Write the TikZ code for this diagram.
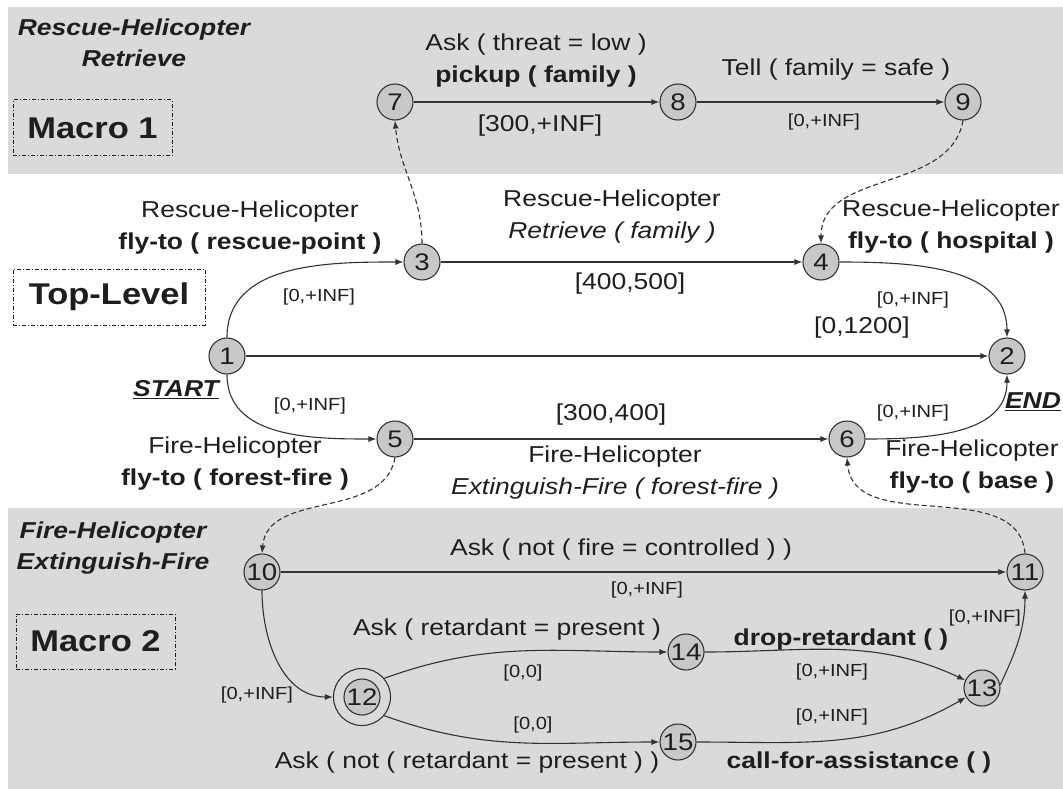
\documentclass[tikz,border=0pt]{standalone}
\usepackage{fontspec}
\setmainfont{Liberation Sans}[FakeStretch=1.15]
\usetikzlibrary{arrows.meta}
\definecolor{band}{HTML}{DADADA}
\definecolor{statefill}{HTML}{C8C8C8}
\definecolor{ink}{HTML}{333333}
\definecolor{textc}{HTML}{1E1E1E}

\begin{document}
\begin{tikzpicture}[x=1pt,y=-1pt,
  state/.style={circle,draw=ink,fill=statefill,line width=1.1pt,minimum size=36pt,
    inner sep=0pt,text=textc,font=\fontsize{24}{24}\selectfont},
  ring/.style={circle,draw=ink,line width=1.1pt,minimum size=57pt,inner sep=0pt},
  lbl/.style={text=textc,font=\fontsize{23}{32}\selectfont,align=center,inner sep=0pt},
  sml/.style={text=textc,font=\fontsize{17.5}{20}\selectfont,inner sep=0pt},
  ttl/.style={text=textc,font=\bfseries\itshape\fontsize{23}{31}\selectfont,align=center,inner sep=0pt},
  level/.style={draw=textc,line width=1pt,dash pattern=on 4pt off 2pt on 1pt off 2pt,
    text=textc,font=\bfseries\fontsize{30}{34}\selectfont,inner sep=0pt},
  edge/.style={draw=ink,line width=1.1pt,-{Latex[length=8pt,width=6pt]}},
  dedge/.style={edge,dash pattern=on 5pt off 3pt},
]
\useasboundingbox (0,0) rectangle (1063,789);
\fill[white] (0,0) rectangle (1063,789);

% shaded macro bands
\fill[band] (8,7) rectangle (1063,174);
\fill[band] (8,508) rectangle (1063,789);

% level boxes
\node[level,minimum width=159pt,minimum height=56pt] (m1) at (92.5,128) {Macro 1};
\node[level,minimum width=192pt,minimum height=56pt] (top) at (109,297) {Top-Level};
\node[level,minimum width=159pt,minimum height=55pt] (m2) at (95.5,641.5) {Macro 2};

% band titles
\node[ttl] (t1) at (134,43) {Rescue-Helicopter\\Retrieve};
\node[ttl] (t2) at (113,548) {Fire-Helicopter\\Extinguish-Fire};

% states
\node[state] (1) at (227,356) {1};
\node[state] (2) at (1007,356) {2};
\node[state] (3) at (422,262) {3};
\node[state] (4) at (821,262) {4};
\node[state] (5) at (395,439) {5};
\node[state] (6) at (847,439) {6};
\node[state] (7) at (395,102) {7};
\node[state] (8) at (678,102) {8};
\node[state] (9) at (963,102) {9};
\node[state] (10) at (262,572) {10};
\node[state] (11) at (1025,572) {11};
\node[state] (12) at (362,697) {12};
\node[ring] (12o) at (362,697) {};
\node[state] (13) at (982,688) {13};
\node[state] (14) at (686,652) {14};
\node[state] (15) at (678,742) {15};

% macro 1
\draw[edge] (7) -- (8);
\draw[edge] (8) -- (9);
\node[lbl] (a78) at (536,61) {Ask ( threat = low )\\\textbf{pickup ( family )}};
\node[lbl] (b78) at (540,126) {[300,+INF]};
\node[lbl] (a89) at (836,70) {Tell ( family = safe )};
\node[sml] (b89) at (824,122) {[0,+INF]};

% top level
\draw[edge] (1.north) to[out=90,in=180] (3.west);
\draw[edge] (3) -- (4);
\draw[edge] (4.east) to[out=0,in=90] (2.north);
\draw[edge] (1) -- (2);
\draw[edge] (1.south) to[out=-90,in=180] (5.west);
\draw[edge] (5) -- (6);
\draw[edge] (6.east) to[out=0,in=-90] (2.south);

\node[lbl] (a13) at (250,228) {Rescue-Helicopter\\\textbf{fly-to ( rescue-point )}};
\node[sml] (b13) at (319,297) {[0,+INF]};
\node[lbl] (a34) at (612,217) {Rescue-Helicopter\\\textit{Retrieve ( family )}};
\node[lbl] (b34) at (630,284) {[400,500]};
\node[lbl] (a42) at (951,227) {Rescue-Helicopter\\\textbf{fly-to ( hospital )}};
\node[sml] (b42) at (913,300) {[0,+INF]};
\node[lbl] (b12) at (862,328) {[0,1200]};
\node[lbl,font=\bfseries\itshape\fontsize{23}{28}\selectfont] (st) at (176,390) {\underline{START}};
\node[lbl,font=\bfseries\itshape\fontsize{23}{28}\selectfont] (en) at (1033,402) {\underline{END}};
\node[sml] (b15) at (310,406) {[0,+INF]};
\node[lbl] (a15) at (235,464) {Fire-Helicopter\\\textbf{fly-to ( forest-fire )}};
\node[lbl] (b56) at (611,415) {[300,400]};
\node[lbl] (a56) at (615,473) {Fire-Helicopter\\\textit{Extinguish-Fire ( forest-fire )}};
\node[sml] (b62) at (913,413) {[0,+INF]};
\node[lbl] (a62) at (972,467) {Fire-Helicopter\\\textbf{fly-to ( base )}};

% expansions into the macros
\draw[dedge] (3.north) to[out=90,in=-85] (7.south);
\draw[dedge] (9.south) to[out=-100,in=90] (4.north);
\draw[dedge] (5.south) to[out=-100,in=85] (10.north);
\draw[dedge] (11.north) to[out=95,in=-85] (6.south);

% macro 2
\draw[edge] (10) -- (11);
\draw[edge] (10.south) to[out=-90,in=180] (12o.west);
\draw[edge] (12o.40) to[out=20,in=180] (14.west);
\draw[edge] (12o.-40) to[out=-20,in=180] (15.west);
\draw[edge] (14.east) to[out=0,in=155] (13);
\draw[edge] (15.east) to[out=0,in=210] (13);
\draw[edge] (13.10) to[out=65,in=-90] (11.south);

\node[lbl] (a1011) at (621,550) {Ask ( not ( fire = controlled ) )};
\node[sml] (b1011) at (647,590) {[0,+INF]};
\node[sml] (b1012) at (257,695) {[0,+INF]};
\node[lbl] (a1214) at (507,630) {Ask ( retardant = present )};
\node[sml] (b1214) at (523,673) {[0,0]};
\node[sml] (b1215) at (533,725) {[0,0]};
\node[lbl] (a1215) at (467,763) {Ask ( not ( retardant = present ) )};
\node[lbl] (a1413) at (841,640) {\textbf{drop-retardant ( )}};
\node[sml] (b1413) at (832,672) {[0,+INF]};
\node[sml] (b1513) at (832,717) {[0,+INF]};
\node[lbl] (a1513) at (859,763) {\textbf{call-for-assistance ( )}};
\node[sml] (b1311) at (985,618) {[0,+INF]};
\end{tikzpicture}
\end{document}
